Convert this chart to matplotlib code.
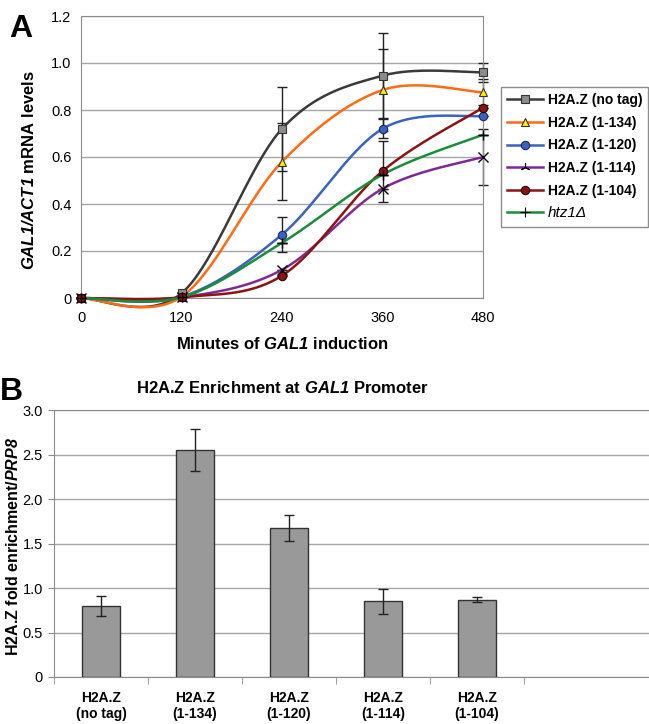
import numpy as np
import matplotlib
matplotlib.use("Agg")
from matplotlib import pyplot as plt

plt.rcParams['font.family'] = ['Liberation Sans', 'DejaVu Sans']
# gene names: bold italic inside $...$ (digits and "/" go to rm, so rm too)
plt.rcParams['mathtext.fontset'] = 'custom'
plt.rcParams['mathtext.it'] = 'Liberation Sans:italic:bold'
plt.rcParams['mathtext.rm'] = 'Liberation Sans:italic:bold'
plt.rcParams['mathtext.bf'] = 'Liberation Sans:italic:bold'

# panel A - time course
minutes = [0, 120, 240, 360, 480]
labels_a = ['H2A.Z (no tag)', 'H2A.Z (1-134)', 'H2A.Z (1-120)',
            'H2A.Z (1-114)', 'H2A.Z (1-104)', 'htz1Δ']
notag = [0.0, 0.02, 0.72, 0.946, 0.96]
d134 = [0.0, 0.005, 0.58, 0.885, 0.875]
d120 = [0.0, 0.005, 0.27, 0.72, 0.775]
d114 = [0.0, 0.003, 0.12, 0.465, 0.60]
d104 = [0.0, 0.003, 0.095, 0.54, 0.81]
htz1 = [0.0, 0.003, 0.235, 0.525, 0.695]
err_notag = [0, 0, 0.18, 0.18, 0.04]
err_134 = [0, 0, 0.165, 0.175, 0.055]
err_120 = [0, 0, 0.075, 0.04, 0.0]
err_114 = [0, 0, 0.0, 0.0, 0.12]
err_104 = [0, 0, 0.0, 0.13, 0.0]
err_htz1 = [0, 0, 0, 0, 0]

# panel B - enrichment
strains = ['H2A.Z\n(no tag)', 'H2A.Z\n(1-134)', 'H2A.Z\n(1-120)',
           'H2A.Z\n(1-114)', 'H2A.Z\n(1-104)']
enrich = [0.80, 2.55, 1.67, 0.85, 0.87]
enrich_err = [0.11, 0.24, 0.145, 0.14, 0.03]


def smooth(x, y, n=40):
    # excel style smoothed line (bezier through points)
    p = np.column_stack([x, y]).astype(float)
    pp = np.vstack([p[0], p, p[-1]])
    out = []
    for i in range(len(p) - 1):
        p0, p1 = pp[i + 1], pp[i + 2]
        c1 = p0 + (pp[i + 2] - pp[i]) / 6
        c2 = p1 - (pp[i + 3] - pp[i + 1]) / 6
        t = np.linspace(0, 1, n)[:, None]
        b = (1 - t) ** 3 * p0 + 3 * (1 - t) ** 2 * t * c1 + 3 * (1 - t) * t ** 2 * c2 + t ** 3 * p1
        out.append(b)
    b = np.vstack(out)
    return b[:, 0], b[:, 1]


fig = plt.figure(figsize=(6.49, 7.24), dpi=100)

axA = fig.add_axes([81 / 649, 1 - 298 / 724, 402 / 649, 282 / 724])
series = [
    (notag, err_notag, '#3a3a3a', 's', '#8c8c8c', '#333333'),
    (d134, err_134, '#ff6a13', '^', '#ffee00', '#333333'),
    (d120, err_120, '#3c62c0', 'o', '#3c62c0', '#1a2a60'),
    (d114, err_114, '#7e2a92', 'x', '#000000', '#000000'),
    (d104, err_104, '#8a1414', 'o', '#8a1414', '#2a0000'),
    (htz1, err_htz1, '#1a8c3c', '+', '#000000', '#000000'),
]
handles = []
for (vals, err, col, mk, fc, ec), lab in zip(series, labels_a):
    sx, sy = smooth(minutes, vals)
    axA.plot(sx, sy, color=col, lw=1.8, zorder=3, clip_on=False)
    axA.errorbar(minutes, vals, yerr=err, fmt='none', ecolor='#222222',
                 elinewidth=1.0, capsize=3.5, capthick=1.0, zorder=2,
                 clip_on=False)
    axA.plot(minutes, vals, ls='none', marker=mk, ms=6.5 if mk in 'x+' else 6,
             mfc=fc, mec=ec, mew=0.8 if mk not in 'x+' else 1.0, zorder=4,
             clip_on=False)
    h, = axA.plot([], [], color=col, lw=1.8,
                  marker=(3, 2, 0) if mk == 'x' else mk,
                  ms=6.5 if mk in 'x+' else 6, mfc=fc, mec=ec, mew=0.8)
    handles.append(h)

axA.set_xlim(0, 480)
axA.set_ylim(0, 1.2)
axA.set_xticks(minutes)
axA.set_yticks([0, 0.2, 0.4, 0.6, 0.8, 1.0, 1.2])
axA.set_yticklabels(['0', '0.2', '0.4', '0.6', '0.8', '1.0', '1.2'])
axA.tick_params(length=0, labelsize=10.5)
axA.tick_params(axis='x', pad=9)
axA.tick_params(axis='y', pad=7)
axA.yaxis.grid(True, color='#a6a6a6', lw=1.0)
axA.set_axisbelow(True)
for s in axA.spines.values():
    s.set_color('#8c8c8c')
axA.set_xlabel(r'Minutes of $GAL1$ induction', fontsize=12,
               fontweight='bold', labelpad=8)
axA.set_ylabel(r'$GAL1/ACT1$ mRNA levels', fontsize=12, fontweight='bold')
axA.yaxis.set_label_coords(-0.11, 0.455)

leg = fig.legend(handles, labels_a, loc='upper left',
                 bbox_to_anchor=(501 / 649, 1 - 87 / 724), fancybox=False,
                 edgecolor='#8c8c8c', framealpha=1, fontsize=10,
                 handlelength=2.6, handletextpad=0.3, labelspacing=0.62,
                 borderpad=0.45, borderaxespad=0)
leg.get_frame().set_linewidth(1.0)
for i, t in enumerate(leg.get_texts()):
    if i < 5:
        t.set_fontweight('bold')
    else:
        t.set_fontstyle('italic')
        t.set_fontsize(11)

fig.text(9 / 649, 1 - 37 / 724, 'A', fontsize=23, fontweight='bold')

# panel B
axB = fig.add_axes([54 / 649, 1 - 677 / 724, 595 / 649, 267 / 724])
xpos = np.arange(len(strains))
axB.bar(xpos, enrich, width=0.4, color='#999999', edgecolor='#333333',
        lw=1.0, zorder=3)
axB.errorbar(xpos, enrich, yerr=enrich_err, fmt='none', ecolor='#222222',
             elinewidth=1.0, capsize=3.5, capthick=1.0, zorder=4)
axB.set_xlim(-0.5, 5.83)
axB.set_ylim(0, 3.0)
axB.set_yticks([0, 0.5, 1.0, 1.5, 2.0, 2.5, 3.0])
axB.set_yticklabels(['0', '0.5', '1.0', '1.5', '2.0', '2.5', '3.0'])
axB.set_xticks(xpos)
axB.set_xticklabels(strains, fontweight='bold', fontsize=10)
axB.set_xticks(np.arange(-0.5, 5.0, 1.0), minor=True)
axB.tick_params(axis='x', which='major', length=0, pad=10)
axB.tick_params(axis='x', which='minor', length=5, color='#8c8c8c')
axB.tick_params(axis='y', length=4, color='#8c8c8c', labelsize=10.5, pad=4)
axB.yaxis.grid(True, color='#a6a6a6', lw=1.0)
axB.set_axisbelow(True)
axB.spines['right'].set_visible(False)
for s in ['left', 'bottom', 'top']:
    axB.spines[s].set_color('#8c8c8c')
axB.set_ylabel(r'H2A.Z fold enrichment/$PRP8$', fontsize=11.5,
               fontweight='bold')
axB.yaxis.set_label_coords(-0.055, 0.49)

fig.text(282 / 649, 1 - 388 / 724, r'H2A.Z Enrichment at $GAL1$ Promoter',
         fontsize=12, fontweight='bold', ha='center', va='center')
fig.text(0, 1 - 400 / 724, 'B', fontsize=23, fontweight='bold')

fig.savefig('out.png', dpi=100, facecolor='white')
